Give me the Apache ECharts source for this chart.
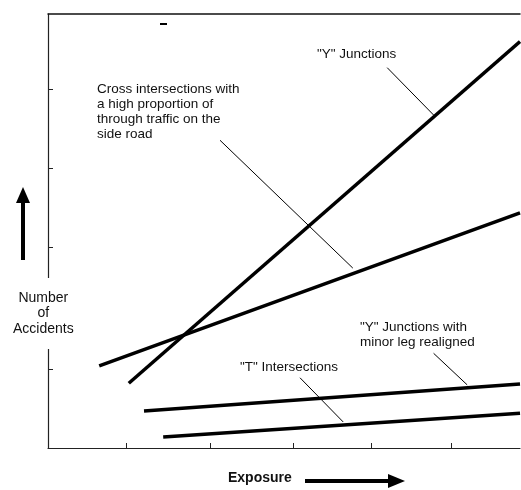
<!DOCTYPE html>
<html>
<head>
<meta charset="utf-8">
<script src="https://cdn.jsdelivr.net/npm/echarts@6/dist/echarts.min.js"></script>
<style>html,body{margin:0;padding:0;background:#fff}#c{width:521px;height:490px}</style>
</head>
<body>
<div id="c"></div>
<script>
// Data (arbitrary exposure / accident units)
var yJunctions        = [[1.01, 0.82], [5.9, 5.15]];
var crossIntersections = [[0.64, 1.04], [5.9, 2.98]];
var yJunctionsRealigned = [[1.20, 0.47], [5.9, 0.81]];
var tIntersections    = [[1.44, 0.14], [5.9, 0.44]];
var xTickValues = [0.98, 2.03, 3.06, 4.04, 5.04];
var yTickValues = [1.0, 2.55, 3.55, 4.55];
// leader lines (data coords): [from, to]
var leaders = [
  [[4.24, 4.82], [4.82, 4.22]],
  [[2.15, 3.90], [3.81, 2.28]],
  [[4.82, 1.20], [5.24, 0.80]],
  [[3.15, 0.89], [3.69, 0.33]]
];

var chart = echarts.init(document.getElementById('c'), null, {renderer: 'canvas'});
var lineStyle = {color: '#000', width: 3.5};
function mk(name, data) {
  return {name: name, type: 'line', data: data, symbol: 'none', lineStyle: lineStyle,
          animation: false, silent: true, z: 3};
}
var font = 'Liberation Sans, Arial, sans-serif';
function txt(x, y, s, size, weight) {
  return {type: 'text', left: x, top: y, z: 10,
          style: {text: s, font: (weight || 'normal') + ' ' + (size || 13.5) + 'px ' + font,
                  fill: '#111', lineHeight: 15, textVerticalAlign: 'top'}};
}
var series = [
  mk('"Y" Junctions', yJunctions),
  mk('Cross intersections', crossIntersections),
  mk('"Y" Junctions with minor leg realigned', yJunctionsRealigned),
  mk('"T" Intersections', tIntersections)
];
series[0].markLine = {
  silent: true, animation: false, symbol: ['none', 'none'],
  lineStyle: {color: '#000', width: 1, type: 'solid'}, label: {show: false},
  data: leaders.map(function (l) { return [{coord: l[0]}, {coord: l[1]}]; })
};

chart.setOption({
  backgroundColor: '#fff',
  animation: false,
  grid: {left: 48, right: 1, top: 14, bottom: 42},
  xAxis: [{
    type: 'value', min: 0, max: 5.9,
    axisLine: {show: true, lineStyle: {color: '#222', width: 1.2}},
    axisTick: {show: true, inside: true, length: 5, customValues: xTickValues, lineStyle: {color: '#222'}},
    axisLabel: {show: false}, splitLine: {show: false}
  }, {
    type: 'value', min: 0, max: 5.9, position: 'top',
    axisLine: {show: true, lineStyle: {color: '#111', width: 1.5}},
    axisTick: {show: false}, axisLabel: {show: false}, splitLine: {show: false}
  }],
  yAxis: {
    type: 'value', min: 0, max: 5.5,
    axisLine: {show: true, lineStyle: {color: '#222', width: 1.2}},
    axisTick: {show: true, inside: true, length: 5, customValues: yTickValues, lineStyle: {color: '#222'}},
    axisLabel: {show: false}, splitLine: {show: false}
  },
  series: series,
  graphic: [
    // gap in the y axis line around the axis title
    {type: 'rect', shape: {x: 43, y: 278, width: 10, height: 71}, style: {fill: '#fff'}, z: 20},
    {type: 'rect', shape: {x: 160, y: 23, width: 7, height: 2}, style: {fill: '#000'}, z: 10},
    txt(317, 47, '"Y" Junctions'),
    txt(97, 82, 'Cross intersections with\na high proportion of\nthrough traffic on the\nside road'),
    txt(360, 320, '"Y" Junctions with\nminor leg realigned'),
    txt(240, 360, '"T" Intersections'),
    {type: 'text', left: 13, top: 290, z: 25,
     style: {text: 'Number\nof\nAccidents', font: 'normal 14px ' + font, fill: '#111',
             align: 'center', lineHeight: 15.5, textAlign: 'center'}},
    txt(228, 471, 'Exposure', 14, 'bold'),
    // up arrow
    {type: 'rect', shape: {x: 21, y: 198, width: 4, height: 62}, style: {fill: '#000'}, z: 10},
    {type: 'polygon', shape: {points: [[23, 187], [16, 203], [30, 203]]}, style: {fill: '#000'}, z: 10},
    // right arrow
    {type: 'rect', shape: {x: 305, y: 479, width: 88, height: 4}, style: {fill: '#000'}, z: 10},
    {type: 'polygon', shape: {points: [[405, 481], [388, 474], [388, 488]]}, style: {fill: '#000'}, z: 10}
  ]
});
</script>
</body>
</html>
